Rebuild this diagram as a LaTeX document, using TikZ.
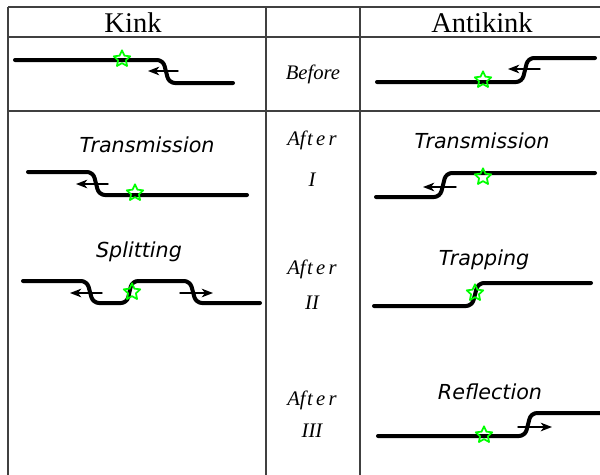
\documentclass[tikz,border=0pt]{standalone}
\usepackage{fontspec}
\setmainfont{Liberation Serif}
\newfontfamily\casefont{DejaVu Sans}[ItalicFont={DejaVu Sans Oblique}]
\usetikzlibrary{shapes.geometric,arrows.meta}

\begin{document}
\begin{tikzpicture}[x=0.75pt, y=-0.75pt, line join=round, line cap=round, >={Stealth[length=8.5pt,width=6.5pt,inset=2.5pt]},
	grid/.style={line width=0.8pt, black!75, line cap=butt},
	field/.style={line width=3pt, rounded corners=4.5pt},
	motion/.style={->, line width=1.1pt},
	defect/.style={star, star points=5, star point ratio=2.1, draw=green, line width=1.3pt, minimum size=13pt, inner sep=0pt},
	head/.style={anchor=base, font=\fontsize{21.4}{24}\selectfont},
	stage/.style={anchor=base, font=\fontsize{15.5}{18}\selectfont\itshape},
	result/.style={anchor=base, font=\casefont\fontsize{15.5}{18}\selectfont\itshape}]
	\useasboundingbox (0,0) rectangle (600,475);
	% table
	\draw[grid] (8,7)--(600,7) (8,37)--(600,37) (8,111)--(600,111);
	\foreach \x in {8,266,360}
	\draw[grid] (\x,7)--(\x,475);
	\node[head] (kink) at (133,32) {Kink};
	\node[head] (antikink) at (482,32) {Antikink};
	\node[stage] (before) at (313,79) {Before};
	\foreach \y/\v/\n/\r in {145/186/1/I,274/309/2/II,405/437/3/III} {
		\node[stage] (after\n) at (312,\y) {Af\kern1pt t\kern2.5pt e\kern2.5pt r};
		\node[stage] (round\n) at (312,\v) {\r};
	}
	% before
	\draw[field] (15,60)--(163,60)--(169,83)--(233,83);
	\draw[motion] (178,71)--(148,71);
	\node[defect] (s0) at (122,59) {};
	\draw[field] (377,82)--(522,82)--(528,58)--(595,58);
	\draw[motion] (540,69)--(508,69);
	\node[defect] (s1) at (483,80) {};
	% after I
	\node[result] (ktrans) at (147,152) {Transmission};
	\draw[field] (28,172)--(93,172)--(99,195)--(247,195);
	\draw[motion] (108,184)--(76,184);
	\node[defect] (s2) at (135,193) {};
	\node[result] (atrans) at (482,148) {Transmission};
	\draw[field] (376,197)--(440,197)--(446,173)--(595,173);
	\draw[motion] (456,187)--(423,187);
	\node[defect] (s3) at (483,177) {};
	% after II
	\node[result] (split) at (139,257) {Splitting};
	\draw[field] (23,281)--(87,281)--(93,303)--(127,303)--(132,281)--(190,281)--(196,303)--(260,303);
	\draw[motion] (102,293)--(70,293);
	\draw[motion] (180,293)--(213,293);
	\node[defect] (s4) at (132,292) {};
	\node[result] (trap) at (484,265) {Trapping};
	\draw[field] (374,306)--(472,306)--(478,283)--(591,283);
	\node[defect] (s5) at (475,293) {};
	% after III
	\node[result] (refl) at (490,399) {Reflection};
	\draw[field] (378,436)--(525,436)--(531,413)--(600,413);
	\draw[motion] (518,427)--(552,427);
	\node[defect] (s6) at (484,435) {};
\end{tikzpicture}
\end{document}
